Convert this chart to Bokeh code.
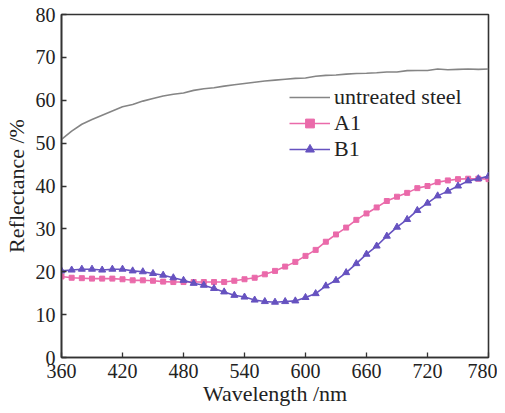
from bokeh.plotting import figure
from bokeh.models import Range1d, Legend, LegendItem, FixedTicker
from bokeh.embed import file_html
from bokeh.resources import INLINE

wavelength = list(range(360, 790, 10))

untreated = [50.9, 52.8, 54.4, 55.5, 56.5, 57.5, 58.5, 59.0, 59.8, 60.4,
             61.0, 61.4, 61.7, 62.3, 62.7, 62.9, 63.3, 63.6, 63.9, 64.2,
             64.5, 64.7, 64.9, 65.1, 65.2, 65.6, 65.8, 65.9, 66.1, 66.25,
             66.3, 66.4, 66.6, 66.6, 66.9, 66.95, 66.95, 67.3, 67.1, 67.2,
             67.3, 67.2, 67.3]

a1 = [18.9, 18.6, 18.5, 18.4, 18.4, 18.4, 18.25, 18.0, 18.0, 17.9,
      17.7, 17.6, 17.6, 17.6, 17.6, 17.6, 17.6, 17.9, 18.25, 18.6,
      19.4, 20.2, 21.2, 22.3, 23.7, 25.1, 27.0, 28.7, 30.3, 32.1,
      33.6, 35.0, 36.5, 37.5, 38.4, 39.5, 40.0, 40.9, 41.3, 41.6,
      41.7, 41.7, 41.6]

b1 = [20.2, 20.4, 20.6, 20.6, 20.4, 20.6, 20.6, 20.2, 20.0, 19.6,
      19.2, 18.6, 18.0, 17.3, 16.85, 16.1, 15.3, 14.5, 14.1, 13.4,
      13.05, 12.9, 13.05, 13.2, 14.0, 14.9, 16.7, 18.0, 19.8, 21.9,
      24.1, 26.0, 28.3, 30.4, 32.2, 34.3, 36.0, 37.7, 38.8, 40.0,
      41.2, 41.7, 42.3]

x_ticks = [360, 420, 480, 540, 600, 660, 720, 780]
y_ticks = [0, 10, 20, 30, 40, 50, 60, 70, 80]

FONT = "Liberation Serif"

p = figure(frame_width=427, frame_height=343, output_backend="svg", toolbar_location=None,
           x_range=Range1d(360, 780), y_range=Range1d(0, 80), title=None,
           min_border_left=53, min_border_right=9, min_border_top=14, min_border_bottom=10)
p.grid.visible = False
p.outline_line_color = "#333333"
p.outline_line_width = 1.6
p.background_fill_color = "white"
p.border_fill_color = "white"

for ax in (p.xaxis[0], p.yaxis[0]):
    ax.major_tick_in = 5
    ax.major_tick_out = 0
    ax.minor_tick_line_color = None
    ax.axis_line_width = 1.6
    ax.axis_line_color = "#333333"
    ax.major_tick_line_color = "#333333"
    ax.major_tick_line_width = 1.3
    ax.major_label_text_font = FONT
    ax.major_label_text_font_size = "20px"
    ax.major_label_text_color = "#222222"
    ax.axis_label_text_font = FONT
    ax.axis_label_text_font_size = "22px"
    ax.axis_label_text_font_style = "normal"
    ax.axis_label_text_color = "#222222"

p.xaxis.ticker = FixedTicker(ticks=x_ticks)
p.yaxis.ticker = FixedTicker(ticks=y_ticks)
p.xaxis.axis_label = "Wavelength /nm"
p.yaxis.axis_label = "Reflectance /%"
p.xaxis.major_label_standoff = 6
p.yaxis.major_label_standoff = 6
p.xaxis.axis_label_standoff = 0
p.yaxis.axis_label_standoff = 4

r0 = p.line(wavelength, untreated, line_color="#858585", line_width=1.6)
r1 = p.line(wavelength, a1, line_color="#EA6AAA", line_width=1.6)
r1m = p.scatter(wavelength, a1, marker="square", size=5, fill_color="#EA6AAA", line_color="#EA6AAA")
r2 = p.line(wavelength, b1, line_color="#6652C0", line_width=1.6)
r2m = p.scatter(wavelength, b1, marker="triangle", size=7, fill_color="#6652C0", line_color="#6652C0")

legend = Legend(items=[
    LegendItem(label="untreated steel", renderers=[r0]),
    LegendItem(label="A1", renderers=[r1, r1m]),
    LegendItem(label="B1", renderers=[r2, r2m]),
], location=(228, 195))
legend.border_line_color = None
legend.background_fill_alpha = 0
legend.padding = 0
legend.margin = 0
legend.spacing = 0
legend.label_height = 22
legend.glyph_height = 22
legend.glyph_width = 41
legend.label_standoff = 4
legend.label_text_font = FONT
legend.label_text_font_size = "22px"
legend.label_text_color = "#222222"
p.add_layout(legend, "center")

open("out.html", "w").write(file_html(p, INLINE))
